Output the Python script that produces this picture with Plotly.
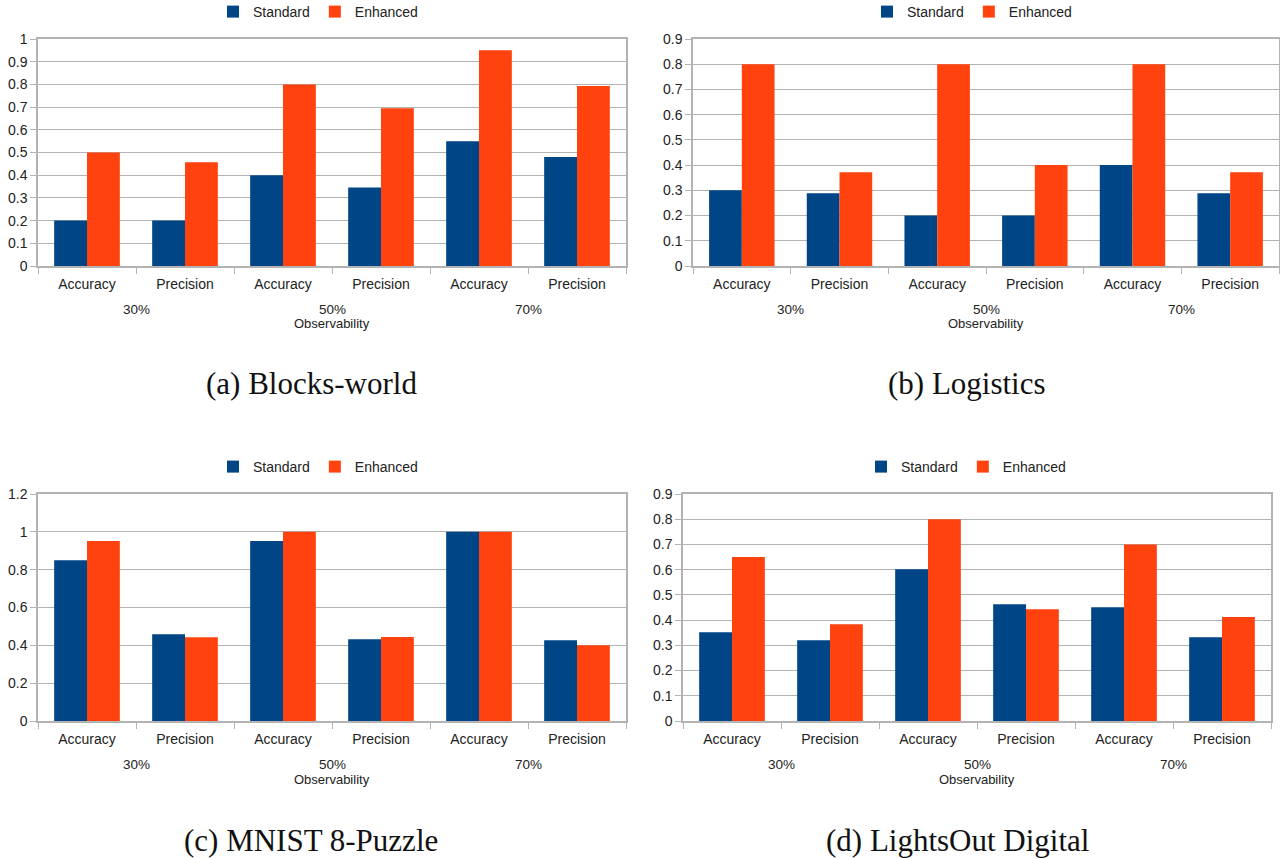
import plotly.graph_objects as go

# ---------------- data ----------------
groups = ["30%", "50%", "70%"]
metrics = ["Accuracy", "Precision"]
categories = [f"{g} {m}" for g in groups for m in metrics]
tick_labels = [m for g in groups for m in metrics]

blocks_standard = [0.20, 0.20, 0.40, 0.346, 0.55, 0.48]
blocks_enhanced = [0.50, 0.457, 0.80, 0.695, 0.95, 0.793]

logistics_standard = [0.30, 0.288, 0.20, 0.20, 0.40, 0.288]
logistics_enhanced = [0.80, 0.372, 0.80, 0.40, 0.80, 0.372]

mnist_standard = [0.85, 0.459, 0.951, 0.432, 1.00, 0.427]
mnist_enhanced = [0.951, 0.443, 1.00, 0.444, 1.00, 0.40]

lightsout_standard = [0.352, 0.320, 0.602, 0.463, 0.451, 0.332]
lightsout_enhanced = [0.650, 0.384, 0.80, 0.443, 0.70, 0.412]

captions = ["(a) Blocks-world", "(b) Logistics", "(c) MNIST 8-Puzzle", "(d) LightsOut Digital"]
y_ranges = [(0, 1.0, 0.1), (0, 0.9, 0.1), (0, 1.2, 0.2), (0, 0.9, 0.1)]

# ---------------- styling ----------------
W, H = 1280, 859
C_STD = "#004586"
C_ENH = "#ff420e"
GRID = "#b3b3b3"
TXT = "#222222"
FONT = "Liberation Sans, Arial, sans-serif"

# plot boxes in pixels: (left, right, top, bottom)
boxes = [
    (38, 626, 39, 266),
    (693, 1279, 39, 266),
    (38, 626, 494, 721),
    (683, 1271, 494, 721),
]
legend_centers = [(318, 12), (972, 12), (318, 467), (966, 467)]
caption_pos = [(311, 384), (967, 384), (311, 840), (957, 840)]

series = [
    (blocks_standard, blocks_enhanced),
    (logistics_standard, logistics_enhanced),
    (mnist_standard, mnist_enhanced),
    (lightsout_standard, lightsout_enhanced),
]

fig = go.Figure()
layout = dict(
    width=W, height=H,
    margin=dict(l=0, r=0, t=0, b=0, autoexpand=False),
    paper_bgcolor="white", plot_bgcolor="white",
    font=dict(family=FONT, size=14, color=TXT),
    barmode="group", bargap=0.33, bargroupgap=0.0,
    annotations=[],
)

for i, ((std, enh), box) in enumerate(zip(series, boxes)):
    n = i + 1
    xa = "x" if n == 1 else f"x{n}"
    ya = "y" if n == 1 else f"y{n}"
    lg = "legend" if n == 1 else f"legend{n}"
    fig.add_trace(go.Bar(x=categories, y=std, name="Standard", marker_color=C_STD,
                         marker_line_width=0, xaxis=xa, yaxis=ya, legend=lg))
    fig.add_trace(go.Bar(x=categories, y=enh, name="Enhanced", marker_color=C_ENH,
                         marker_line_width=0, xaxis=xa, yaxis=ya, legend=lg))
    l, r, t, b = box
    xkey = "xaxis" if n == 1 else f"xaxis{n}"
    ykey = "yaxis" if n == 1 else f"yaxis{n}"
    y0, y1, dt = y_ranges[i]
    layout[xkey] = dict(
        domain=[l / W, r / W], anchor=ya, automargin=False,
        type="category", categoryorder="array", categoryarray=categories,
        tickmode="array", tickvals=categories, ticktext=tick_labels,
        tickson="boundaries", ticks="outside", ticklen=6, tickcolor=GRID,
        ticklabelstandoff=4,
        showgrid=False, showline=True, linecolor=GRID, linewidth=1.5, mirror=True,
        tickfont=dict(size=14, color=TXT), fixedrange=True, zeroline=False,
    )
    layout[ykey] = dict(
        domain=[1 - b / H, 1 - t / H], anchor=xa, automargin=False,
        range=[y0, y1], dtick=dt, tick0=0,
        ticks="outside", ticklen=6, tickcolor=GRID,
        showgrid=True, gridcolor=GRID, gridwidth=1,
        showline=True, linecolor=GRID, linewidth=1.5, mirror=True,
        zeroline=False, tickfont=dict(size=14, color=TXT), fixedrange=True,
    )
    lx, ly = legend_centers[i]
    layout[lg] = dict(
        orientation="h", x=lx / W, y=1 - ly / H, xanchor="center", yanchor="middle",
        font=dict(size=14, color=TXT), itemwidth=30, tracegroupgap=0,
        bgcolor="rgba(0,0,0,0)", traceorder="normal", itemclick=False,
    )
    # group labels
    for gi, g in enumerate(groups):
        layout["annotations"].append(dict(
            x=2 * gi + 0.5, y=1 - (b + 43) / H, xref=xa, yref="paper",
            text=g, showarrow=False, font=dict(size=13.5, color=TXT),
            xanchor="center", yanchor="middle"))
    layout["annotations"].append(dict(
        x=((l + r) / 2) / W, y=1 - (b + 58) / H, xref="paper", yref="paper",
        text="Observability", showarrow=False, font=dict(size=13, color=TXT),
        xanchor="center", yanchor="middle"))
    cx, cy = caption_pos[i]
    layout["annotations"].append(dict(
        x=cx / W, y=1 - cy / H, xref="paper", yref="paper",
        text=captions[i], showarrow=False,
        font=dict(size=31, color="#111111", family="Liberation Serif, DejaVu Serif, serif"),
        xanchor="center", yanchor="middle"))

fig.update_layout(**layout)
fig.write_html("out.html", config={"displayModeBar": False},
               post_script="document.body.style.margin='0';")
